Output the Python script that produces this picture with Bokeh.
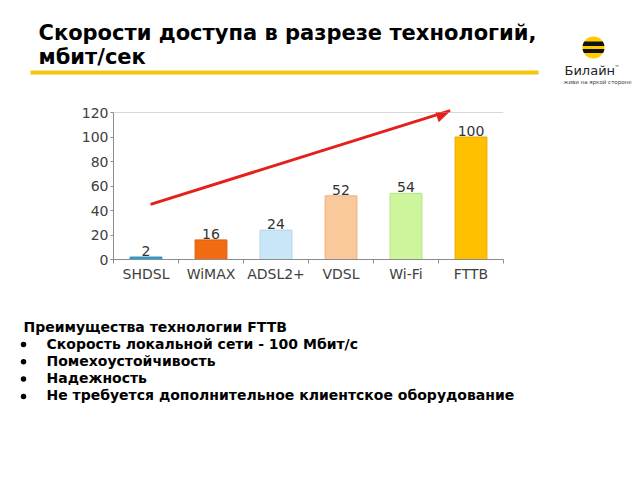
import numpy as np
from bokeh.plotting import figure
from bokeh.layouts import column
from bokeh.core.properties import value
from bokeh.models import (ColumnDataSource, Range1d, LabelSet, FixedTicker,
                          Arrow, NormalHead, Span)
from bokeh.embed import file_html
from bokeh.resources import INLINE

# ---------------- data ----------------
technologies = ["SHDSL", "WiMAX", "ADSL2+", "VDSL", "Wi-Fi", "FTTB"]
speeds = [2, 16, 24, 52, 54, 100]
bar_colors = ["#2f9fd4", "#f26a12", "#c8e6f8", "#f9c99c", "#ccf59c", "#ffc000"]
bar_edges = ["#2a8fc0", "#e05e0c", "#b4d4ea", "#e8b282", "#b8e288", "#e8ac00"]
y_ticks = [0, 20, 40, 60, 80, 100, 120]

title_lines = ["Скорости доступа в разрезе технологий,", "мбит/сек"]
advantages_header = "Преимущества технологии FTTB"
advantages = [
    "Скорость локальной сети - 100 Мбит/с",
    "Помехоустойчивость",
    "Надежность",
    "Не требуется дополнительное клиентское оборудование",
]
brand = "Билайн"
slogan = "живи на яркой стороне"

trend_start = (0.57, 45)
trend_end = (5.18, 121.5)

FONT = "DejaVu Sans"
W = 640
TOP_H = 100          # header strip: page y 0..100
CHART_H = 200        # chart strip: page y 100..300
BOT_H = 180          # text strip: page y 300..480

centers = [i + 0.5 for i in range(len(technologies))]
bounds = [i for i in range(len(technologies) + 1)]


def no_align(f):
    try:
        f.frame_align = False
    except AttributeError:
        pass


def blank(height, y0):
    f = figure(width=W, height=height, x_range=Range1d(0, W),
               y_range=Range1d(y0 + height, y0),
               output_backend="svg", toolbar_location=None,
               x_axis_location=None, y_axis_location=None,
               min_border=0, min_border_left=0, min_border_right=0,
               min_border_top=0, min_border_bottom=0)
    f.outline_line_color = None
    f.grid.visible = False
    f.background_fill_color = "white"
    f.border_fill_color = "white"
    no_align(f)
    return f


# ---------------- header ----------------
top = blank(TOP_H, 0)
top.text(x=[38, 38], y=[32, 56], text=title_lines, text_font=value(FONT),
         text_font_size=value("21px"), text_font_style="bold",
         text_color="#000000", text_baseline="middle")
top.quad(left=[30], right=[538], top=[70], bottom=[74],
         fill_color="#f6c30f", line_color=None)

# logo ball
cx, cy, r = 593, 47, 11
top.ellipse(x=[cx], y=[cy], width=2 * r, height=2 * r,
            fill_color="#ffcc00", line_color=None)
stripe_xs, stripe_ys = [], []
for y0, y1 in [(-6.0, -1.5), (1.5, 5.5)]:
    ya = np.linspace(y0, y1, 12)
    half = np.sqrt(np.maximum(r * r - ya * ya, 0))
    stripe_xs.append(list(cx - half) + list(cx + half[::-1]))
    stripe_ys.append(list(cy + ya) + list(cy + ya[::-1]))
top.patches(xs=stripe_xs, ys=stripe_ys, fill_color="#111111", line_color=None)
top.text(x=[564], y=[70], text=[brand], text_font=value(FONT),
         text_font_size=value("13px"), text_color="#222222", text_baseline="middle")
top.text(x=[614], y=[66], text=["™"], text_font=value(FONT),
         text_font_size=value("5px"), text_color="#222222", text_baseline="middle")
top.text(x=[563], y=[81], text=[slogan], text_font=value(FONT),
         text_font_size=value("5.5px"), text_color="#444444", text_baseline="middle")

# ---------------- chart ----------------
FL, FR, FT, FB = 113, 503, 112 - TOP_H, 259 - TOP_H
p = figure(width=W, height=CHART_H,
           x_range=Range1d(0, len(technologies)), y_range=Range1d(0, 120),
           output_backend="svg", toolbar_location=None,
           min_border_left=FL, min_border_right=W - FR,
           min_border_top=FT, min_border_bottom=CHART_H - FB)
no_align(p)
p.outline_line_color = None
p.background_fill_color = "white"
p.border_fill_color = "white"
p.xgrid.visible = False
p.ygrid.visible = False

src = ColumnDataSource(dict(x=centers, tech=technologies, speed=speeds, color=bar_colors,
                            edge=bar_edges, label=[str(s) for s in speeds]))
p.vbar(x="x", top="speed", width=0.49, source=src, fill_color="color",
       line_color="edge", line_width=1)

labels = LabelSet(x="x", y="speed", text="label", source=src,
                  text_align="center", text_baseline="bottom", y_offset=1,
                  text_font=value(FONT), text_font_size=value("14px"),
                  text_color="#333333")
p.add_layout(labels)

p.yaxis.ticker = y_ticks
p.yaxis.axis_line_color = "#8c8c8c"
p.yaxis.major_tick_line_color = "#8c8c8c"
p.yaxis.major_tick_in = 0
p.yaxis.major_tick_out = 3
p.yaxis.minor_tick_line_color = None
p.yaxis.major_label_standoff = 2
p.yaxis.major_label_text_font = FONT
p.yaxis.major_label_text_font_size = "14px"
p.yaxis.major_label_text_color = "#404040"

p.xaxis.ticker = FixedTicker(ticks=centers, minor_ticks=bounds)
p.xaxis.major_label_overrides = {c: t for c, t in zip(centers, technologies)}
p.xaxis.axis_line_color = "#8c8c8c"
p.xaxis.major_tick_line_color = None
p.xaxis.major_tick_in = 0
p.xaxis.major_tick_out = 0
p.xaxis.minor_tick_line_color = "#8c8c8c"
p.xaxis.minor_tick_in = 0
p.xaxis.minor_tick_out = 4
p.xaxis.major_label_standoff = 2
p.xaxis.major_label_text_font = FONT
p.xaxis.major_label_text_font_size = "14px"
p.xaxis.major_label_text_color = "#404040"

p.add_layout(Span(location=120, dimension="width", line_color="#b0b0b0", line_width=1))

p.add_layout(Arrow(x_start=trend_start[0], y_start=trend_start[1],
                   x_end=trend_end[0], y_end=trend_end[1],
                   line_color="#e3201b", line_width=3,
                   end=NormalHead(size=14, fill_color="#e3201b", line_color="#e3201b")))

# ---------------- advantages text ----------------
bot = blank(BOT_H, TOP_H + CHART_H)
bot.text(x=[23], y=[326], text=[advantages_header], text_font=value(FONT),
         text_font_size=value("14px"), text_font_style="bold",
         text_color="#000000", text_baseline="middle")
line_y = [343 + i * 17.3 for i in range(len(advantages))]
bot.text(x=[46] * len(advantages), y=line_y, text=advantages, text_font=value(FONT),
         text_font_size=value("14px"), text_font_style="bold",
         text_color="#000000", text_baseline="middle")
bot.scatter(x=[23] * len(advantages), y=[v + 1 for v in line_y], size=5.5,
            marker="circle", fill_color="#000000", line_color=None)

layout = column(top, p, bot, spacing=0)
open("out.html", "w").write(file_html(layout, INLINE))
